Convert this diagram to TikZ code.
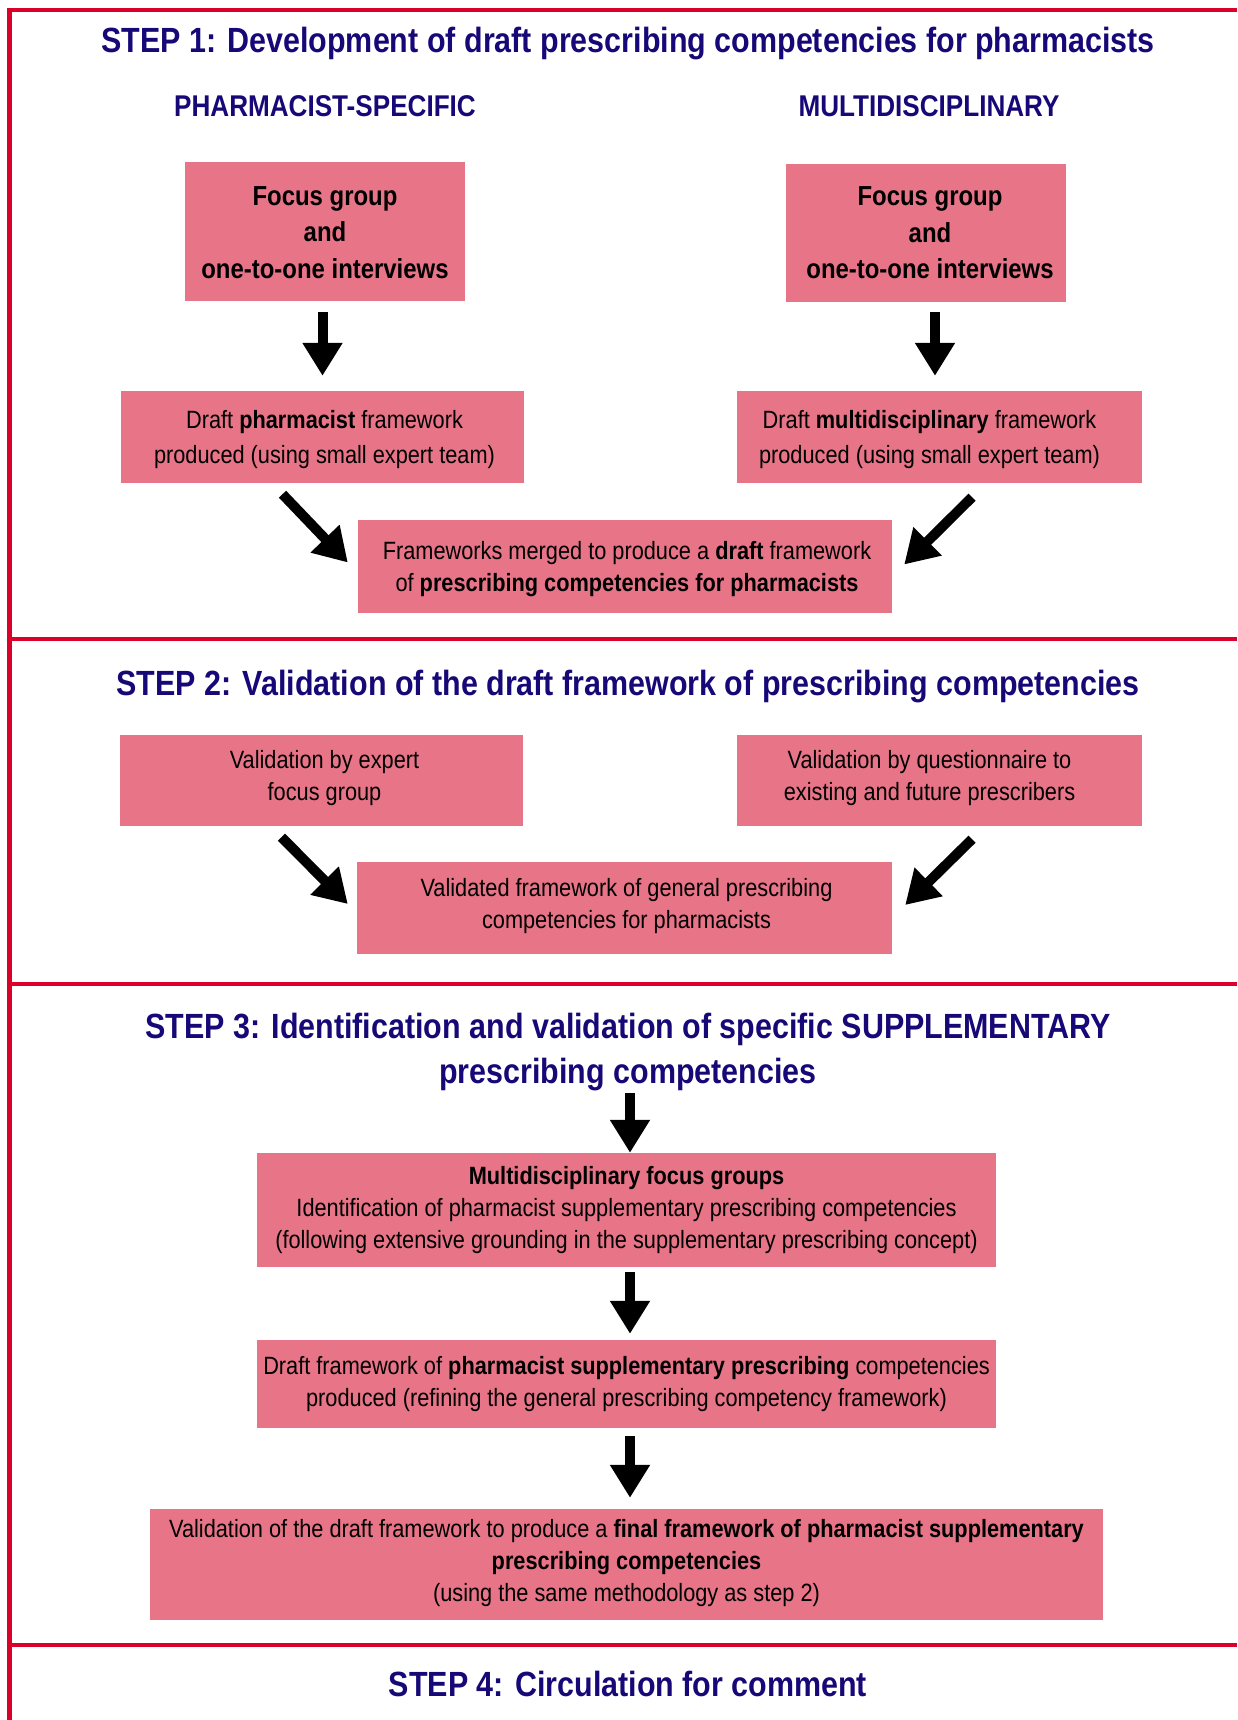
\documentclass[tikz,border=0pt]{standalone}
\usepackage{fontspec}
\setmainfont{Liberation Sans}[FakeStretch=0.87]
\usetikzlibrary{arrows.meta,calc}
\definecolor{framered}{RGB}{218,0,42}
\definecolor{boxfill}{RGB}{232,116,136}
\definecolor{navy}{RGB}{22,8,118}
\begin{document}
\begin{tikzpicture}[x=1pt,y=-1pt,
  box/.style={fill=boxfill, draw=none, align=center, inner sep=0pt, text=black,
    font={\fontsize{25}{32}\selectfont}},
  boxtext/.style={align=center, inner sep=0pt, text=black, font={\fontsize{25}{32}\selectfont}},
  widetext/.style={boxtext, font={\fontsize{25}{35}\selectfont}},
  focustext/.style={boxtext, font={\fontsize{27.5}{36.5}\selectfont\bfseries}},
  steptitle/.style={text=navy, align=center, inner sep=0pt,
    font={\fontsize{35}{45}\selectfont\bfseries}},
  subhead/.style={text=navy, inner sep=0pt, font={\fontsize{30}{36}\selectfont\bfseries}},
  arr/.style={line width=10pt, -{Triangle[width=38pt,length=33pt]}},
  sep/.style={draw=framered, line width=3.5pt}
]
\useasboundingbox (0,0) rectangle (1237,1720);
% frame
\draw[framered, line width=4.5pt] (9.5,1720) -- (9.5,10) -- (1237,10);
\draw[sep] (9.5,639) -- (1237,639);
\draw[sep] (9.5,984) -- (1237,984);
\draw[sep] (9.5,1645) -- (1237,1645);

% STEP 1
\node[steptitle, anchor=base] (t1) at (628,53) {STEP 1: Development of draft prescribing competencies for pharmacists};
\node[subhead, anchor=base] (s1) at (325,117) {PHARMACIST-SPECIFIC};
\node[subhead, anchor=base] (s2) at (929,117) {MULTIDISCIPLINARY};

\node[box, minimum width=280pt, minimum height=139pt,
  label={[focustext, yshift=-1pt]center:{Focus group\\and\\one-to-one interviews}}] (A1) at (325,231.5) {};
\node[box, minimum width=280pt, minimum height=138pt,
  label={[focustext, xshift=4pt]center:{Focus group\\and\\one-to-one interviews}}] (B1) at (926,233) {};

\node[box, minimum width=403pt, minimum height=92pt,
  label={[widetext, xshift=2pt, yshift=-3pt]center:{Draft \textbf{pharmacist} framework\\produced (using small expert team)}}] (A2) at (322.5,437) {};
\node[box, minimum width=405pt, minimum height=92pt,
  label={[widetext, xshift=-10pt, yshift=-3pt]center:{Draft \textbf{multidisciplinary} framework\\produced (using small expert team)}}] (B2) at (939.5,437) {};

\node[box, minimum width=534pt, minimum height=93pt,
  label={[boxtext, xshift=2pt, yshift=-3pt]center:{Frameworks merged to produce a \textbf{draft} framework\\of \textbf{prescribing competencies for pharmacists}}}] (M1) at (625,566.5) {};

\draw[arr, shorten <=11pt, shorten >=15pt] (A2.north |- A1.south) -- (A2.north);
\draw[arr, shorten <=10pt, shorten >=15pt] ([xshift=-4.5pt]B2.north |- B1.south) -- ([xshift=-4.5pt]B2.north);
\draw[arr] ([shift={(-40,11)}]A2.south) -- ([shift={(-10,-4)}]M1.west);
\draw[arr] ([shift={(32.5,14)}]B2.south) -- ([shift={(12,-2)}]M1.east);

% STEP 2
\node[steptitle, anchor=base] (t2) at (628,695.5) {STEP 2: Validation of the draft framework of prescribing competencies};
\node[box, minimum width=403pt, minimum height=91pt,
  label={[boxtext, xshift=3pt, yshift=2pt]center:{Validation by expert\\focus group}}] (A3) at (321.5,780.5) {};
\node[box, minimum width=405pt, minimum height=91pt,
  label={[boxtext, xshift=-10pt, yshift=2pt]center:{Validation by questionnaire to\\existing and future prescribers}}] (B3) at (939.5,780.5) {};
\node[box, minimum width=535pt, minimum height=92pt,
  label={[boxtext, xshift=2pt, yshift=2pt]center:{Validated framework of general prescribing\\competencies for pharmacists}}] (M2) at (624.5,908) {};
\draw[arr] ([shift={(-40,11)}]A3.south) -- ([shift={(-9,-4)}]M2.west);
\draw[arr] ([shift={(32.5,13)}]B3.south) -- ([shift={(13,-3)}]M2.east);

% STEP 3
\node[steptitle] (t3) at (628,1052) {STEP 3: Identification and validation of specific SUPPLEMENTARY\\prescribing competencies};
\node[box, minimum width=739pt, minimum height=114pt] (C1) at (626.5,1210) {\textbf{Multidisciplinary focus groups}\\Identification of pharmacist supplementary prescribing competencies\\(following extensive grounding in the supplementary prescribing concept)};
\node[box, minimum width=739pt, minimum height=88pt] (C2) at (626.5,1384) {Draft framework of \textbf{pharmacist supplementary prescribing} competencies\\produced (refining the general prescribing competency framework)};
\node[box, minimum width=953pt, minimum height=111pt,
  label={[boxtext, yshift=1.5pt]center:{Validation of the draft framework to produce a \textbf{final framework of pharmacist supplementary}\\\textbf{prescribing competencies}\\(using the same methodology as step 2)}}] (C3) at (626.5,1564.5) {};
\draw[arr, shorten <=2pt] ([xshift=3.5pt]C1.north |- t3.south) -- ([xshift=3.5pt]C1.north);
\draw[arr, shorten <=5pt, shorten >=6pt] ([xshift=3.5pt]C1.south) -- ([xshift=3.5pt]C2.north);
\draw[arr, shorten <=8pt, shorten >=11pt] ([xshift=3.5pt]C2.south) -- ([xshift=3.5pt]C3.north);

% STEP 4
\node[steptitle, anchor=base] (t4) at (628,1696.5) {STEP 4: Circulation for comment};
\end{tikzpicture}
\end{document}
